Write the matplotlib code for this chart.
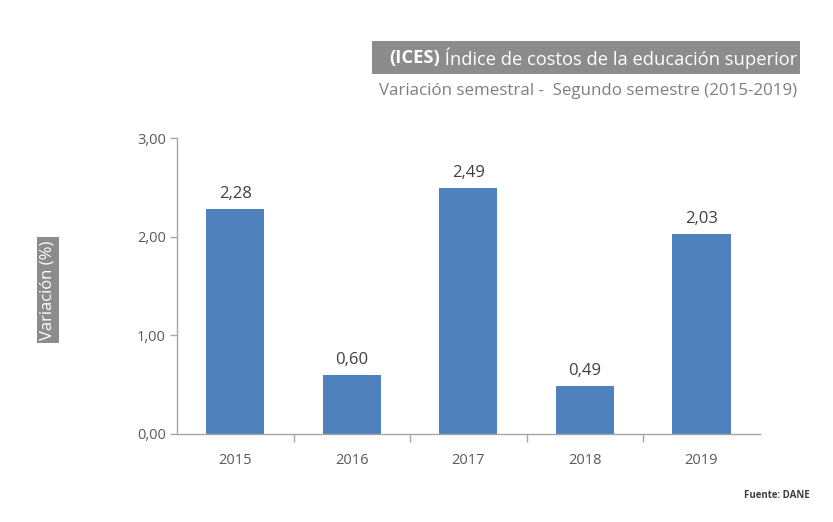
"""
ICES - variación semestral, segundo semestre (2015-2019)
"""

import matplotlib
matplotlib.use('Agg')
import matplotlib.pyplot as plt
from matplotlib.patches import Rectangle
from matplotlib.ticker import FuncFormatter, FixedLocator

plt.rcParams.update({
    'font.family': ['Open Sans', 'DejaVu Sans'],
    'font.size': 10,
    'xtick.labelsize': 10.5,
    'ytick.labelsize': 10.5,
})

years = ['2015', '2016', '2017', '2018', '2019']
variacion = [2.28, 0.60, 2.49, 0.49, 2.03]
y_ticks = [0.0, 1.0, 2.0, 3.0]

bar_color = '#4f81bd'
text_gray = '#595959'
axis_gray = '#a6a6a6'
box_gray = '#8c8c8c'


def coma(v, pos=None):
    return f'{v:.2f}'.replace('.', ',')


fig = plt.figure(figsize=(8.33, 5.22), dpi=100)
ax = fig.add_axes([0.2125, 0.1686, 0.6995, 0.567])

x = range(len(years))
ax.bar(x, variacion, width=0.5, color=bar_color, zorder=2)

# value labels above each bar
for i, v in enumerate(variacion):
    ax.annotate(coma(v), (i, v), xytext=(0, 5), textcoords='offset points',
                ha='center', va='bottom', fontsize=12, color='#404040')

ax.set_xlim(-0.5, len(years) - 0.5)
ax.set_ylim(0, 3)
ax.set_yticks(y_ticks)
ax.yaxis.set_major_formatter(FuncFormatter(coma))
ax.set_xticks(list(x))
ax.set_xticklabels(years)
ax.xaxis.set_minor_locator(FixedLocator([i + 0.5 for i in range(len(years) - 1)]))

for s in ['top', 'right']:
    ax.spines[s].set_visible(False)
for s in ['left', 'bottom']:
    ax.spines[s].set_color(axis_gray)
    ax.spines[s].set_linewidth(1.0)

ax.tick_params(axis='y', colors=axis_gray, labelcolor=text_gray, length=5, width=1, pad=3)
ax.tick_params(axis='x', which='major', length=0, labelcolor=text_gray, pad=14)
ax.tick_params(axis='x', which='minor', colors=axis_gray, length=6, width=1)

# y label in grey box
fig.text(48 / 833, 1 - 290 / 522, 'Variación (%)', rotation=90, ha='center', va='center',
         color='white', fontsize=12,
         bbox=dict(boxstyle='square,pad=0.2', fc=box_gray, ec='none'))

# title banner: grey box with bold "(ICES)" and regular rest
fig.patches.append(Rectangle((372 / 833, 1 - 74 / 522), (800 - 372) / 833, 33 / 522,
                             transform=fig.transFigure, facecolor=box_gray,
                             edgecolor='none', zorder=0))
t_rest = fig.text(797 / 833, 1 - 58 / 522, ' Índice de costos de la educación superior',
                  ha='right', va='center', color='white', fontsize=13.2)
fig.canvas.draw()
bb = t_rest.get_window_extent()
fig.text(bb.x0 / fig.bbox.width, 1 - 58 / 522, '(ICES)', ha='right', va='center',
         color='white', fontsize=13.2, fontweight='bold')

fig.text(797 / 833, 1 - 91 / 522, 'Variación semestral -  Segundo semestre (2015-2019)',
         ha='right', va='center', color='#7f7f7f', fontsize=12.2)

fig.text(810 / 833, 1 - 496 / 522, 'Fuente: DANE', ha='right', va='center',
         color='#404040', fontsize=7, fontweight='bold')

fig.savefig('out.png', dpi=100, facecolor='white')
